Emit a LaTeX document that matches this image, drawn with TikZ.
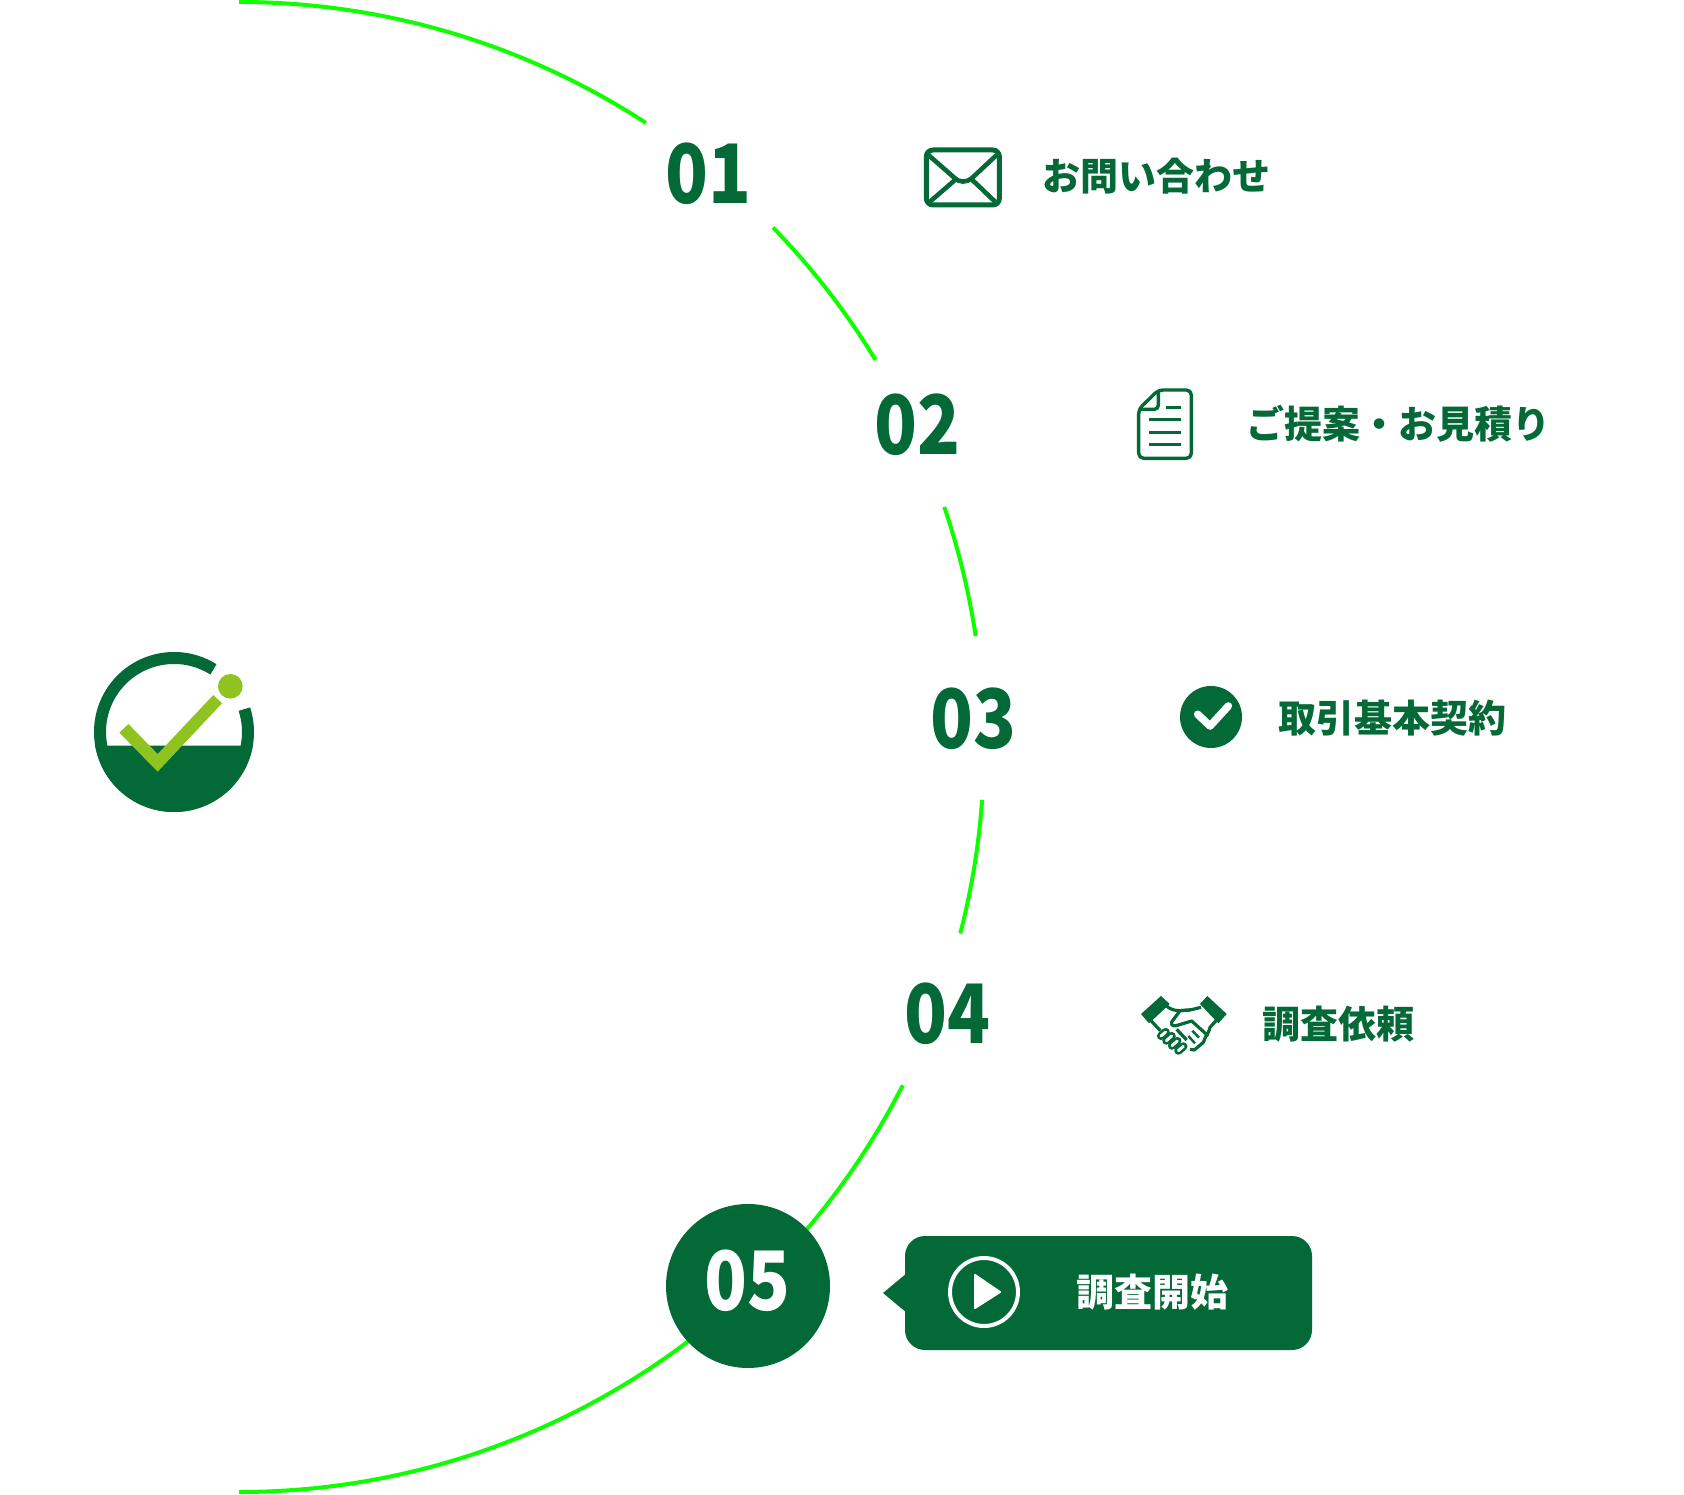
\documentclass[tikz,border=0pt]{standalone}
\usepackage{fontspec}
\setmainfont{Noto Sans CJK JP}
\usetikzlibrary{positioning}
\definecolor{dkgreen}{HTML}{036937}
\definecolor{ltgreen}{HTML}{8FC31F}
\definecolor{arcgreen}{HTML}{10FF00}
\tikzset{
  arcline/.style={draw=arcgreen, line width=2pt},
  numlabel/.style={font=\bfseries\fontsize{41}{41}\selectfont, text=dkgreen, inner sep=0, xscale=.86},
  steplabel/.style={font=\bfseries\fontsize{19}{19}\selectfont, text=dkgreen, inner sep=0},
  iconline/.style={draw=dkgreen, line width=1.7pt, line join=round},
  finger/.style={draw=dkgreen, double=white, double distance=1.5pt, line width=1.3pt, line cap=round},
  zoomed/.style={x=.16667pt, y=-.16667pt}
}
\begin{document}
\begin{tikzpicture}[x=.5pt,y=.5pt]
\useasboundingbox (0,0) rectangle (1684,1494);
\coordinate (hub) at (239,747);
% arc pieces
\draw[arcline] ([shift={(hub)}]90:745) arc (90:56.9:745);
\draw[arcline] ([shift={(hub)}]44.2:745) arc (44.2:31.3:745);
\draw[arcline] ([shift={(hub)}]18.8:745) arc (18.8:8.55:745);
\draw[arcline] ([shift={(hub)}]-4.07:745) arc (-4.07:-14.5:745);
\draw[arcline] ([shift={(hub)}]-27:745) arc (-27:-90:745);
% logo
\coordinate (logo) at (174,762);
\fill[dkgreen] ([shift={(logo)}]-9.86:80) arc (-9.86:-170.14:80) -- cycle;
\draw[dkgreen, line width=6pt] ([shift={(logo)}]57.8:74) arc (57.8:378:74);
\begin{scope}[shift={(60,874)},zoomed]
\fill[ltgreen] (178,338) -- (205,312) -- (293,402) -- (460,225) -- (486,250) -- (293,455) -- cycle;
\fill[ltgreen] (511,199) circle (37);
\end{scope}
% numbers
\node[numlabel] (num01) at (708,1320){01};
\node[numlabel] (num02) at (917,1069){02};
\node[numlabel] (num03) at (973,775.5){03};
\node[numlabel] (num04) at (947,480){04};
\node[circle, fill=dkgreen, minimum size=82pt, inner sep=0] (dot05) at (748,208){};
\node[numlabel, text=white] (num05) at (747.5,213){05};
% labels
\node[steplabel] (lab01) at (1156,1318){お問い合わせ};
\node[steplabel] (lab02) at (1398.5,1070){ご提案・お見積り};
\node[steplabel] (lab03) at (1392,776){取引基本契約};
\node[steplabel] (lab04) at (1338.5,470){調査依頼};
% envelope
\begin{scope}[shift={(900,1374)},zoomed]
\draw[iconline, line width=2.5pt, rounded corners=3.3pt] (79,90) rectangle (298,255);
\draw[iconline, line width=2.3pt] (85,105) -- (165,175) .. controls (178,188) and (200,188) .. (215,175) -- (290,105);
\draw[iconline, line width=2.3pt] (90,245) -- (165,180);
\draw[iconline, line width=2.3pt] (285,245) -- (215,178);
\end{scope}
% sheet
\begin{scope}[shift={(1120,1124)},zoomed]
\draw[iconline, rounded corners=2.5pt] (115,60) -- (214,60) -- (214,265) -- (56,265) -- (56,118) -- cycle;
\draw[iconline, rounded corners=2pt] (115,60) -- (115,118) -- (56,118);
\draw[iconline] (138,112) -- (182,112);
\draw[iconline] (88,149) -- (182,149);
\draw[iconline] (88,187) -- (182,187);
\draw[iconline] (88,224) -- (182,224);
\end{scope}
% check badge
\node[circle, fill=dkgreen, minimum size=31pt, inner sep=0] (badge) at (1211,777){};
\begin{scope}[shift={(1160,824)},zoomed]
\draw[white, line width=3.8pt, line cap=round, line join=round] (113,133) -- (150,168) -- (205,108);
\end{scope}
% handshake
\begin{scope}[shift={(1135,504)},zoomed]
\fill[dkgreen] (18,72) -- (78,18) -- (104,42) -- (42,100) -- cycle;
\fill[dkgreen] (195,42) -- (217,18) -- (275,72) -- (250,100) -- cycle;
\draw[iconline, line width=1.6pt] (92,46) .. controls (105,58) and (118,62) .. (135,62) -- (165,60) -- (198,52);
\draw[iconline, line width=1.6pt] (165,60) -- (135,62) -- (110,96) .. controls (105,108) and (120,110) .. (130,105) -- (170,93) -- (220,138);
\draw[iconline, line width=1.6pt] (48,92) -- (76,122);
\draw[iconline, line width=1.6pt] (243,92) -- (225,112) .. controls (222,125) and (218,130) .. (212,140) -- (205,157) -- (178,180) -- (165,178);
\draw[iconline, line width=1.6pt] (125,118) -- (155,150);
\draw[iconline, line width=1.2pt] (172,122) -- (192,143);
\draw[iconline, line width=1.2pt] (160,138) -- (180,160);
\draw[finger] (78,138) -- (92,126);
\draw[finger] (94,152) -- (110,138);
\draw[finger] (111,167) -- (127,153);
\draw[finger] (130,182) -- (145,169);
\end{scope}
% start box
\draw[fill=dkgreen, draw=none, rounded corners=10pt] (905,258) -- (905,144) -- (1312,144) -- (1312,258) -- cycle;
\fill[dkgreen] (907,221) -- (883,201) -- (907,181) -- cycle;
\node[circle, draw=white, line width=2pt, minimum size=34pt, inner sep=0] (playdot) at (984,202){};
\fill[white, draw=white, line join=round, line width=1pt] (975,219) -- (975,186) -- (1000,202) -- cycle;
\node[steplabel, text=white] (lab05) at (1152.5,202){調査開始};
\end{tikzpicture}
\end{document}
